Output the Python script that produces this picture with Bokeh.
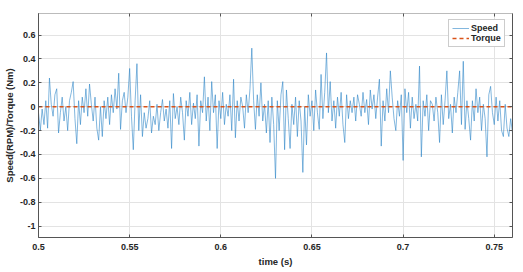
import numpy as np
from bokeh.plotting import figure
from bokeh.models import LinearAxis, FixedTicker, Range1d, Legend, LegendItem, CustomJSTickFormatter
from bokeh.embed import file_html
from bokeh.resources import INLINE

# ---- data ----
t_start = 0.5
t_step = 0.001
speed = [
    -0.05, -0.20, -0.02, -0.15, 0.05, -0.18, 0.24, 0.02, -0.08, 0.10,
    0.15, -0.22, -0.05, 0.08, -0.12, 0.00, -0.20, 0.05, 0.12, 0.21,
    -0.10, -0.31, 0.05, -0.15, 0.08, -0.05, 0.15, -0.08, 0.19, 0.02,
    -0.12, 0.08, -0.18, -0.28, 0.00, -0.25, 0.05, -0.10, 0.08, -0.15,
    0.10, -0.05, 0.15, -0.02, 0.28, -0.19, 0.05, 0.12, -0.05, 0.08,
    0.32, -0.08, -0.36, 0.05, 0.36, -0.20, 0.10, -0.25, -0.05, -0.18,
    -0.10, 0.05, -0.22, -0.08, -0.15, 0.02, -0.20, -0.05, 0.06, -0.12,
    -0.02, -0.18, 0.05, -0.35, 0.11, -0.10, 0.00, -0.15, 0.08, -0.05,
    -0.28, 0.05, -0.08, 0.12, -0.15, 0.03, -0.10, 0.10, -0.33, 0.05,
    -0.05, 0.25, -0.12, 0.08, -0.20, 0.21, -0.05, 0.10, -0.35, 0.05,
    -0.10, 0.12, -0.15, 0.02, -0.08, 0.10, -0.20, 0.23, -0.26, 0.05,
    -0.12, 0.08, 0.00, -0.18, 0.10, -0.05, 0.15, 0.49, 0.05, -0.19,
    0.10, -0.08, 0.20, -0.12, 0.02, -0.22, 0.05, -0.30, 0.08, -0.15,
    -0.60, 0.05, -0.20, 0.10, 0.21, -0.36, 0.14, -0.10, -0.35, 0.02,
    -0.15, 0.08, -0.25, 0.05, -0.12, -0.55, 0.00, -0.32, 0.10, -0.08,
    0.05, -0.20, 0.14, -0.05, -0.19, 0.27, -0.10, 0.12, 0.45, -0.05,
    0.21, -0.12, 0.05, -0.18, 0.08, -0.08, 0.12, -0.15, -0.30, 0.10,
    -0.10, 0.05, -0.05, 0.08, -0.12, 0.10, 0.02, -0.08, 0.12, -0.05,
    0.06, -0.15, 0.14, -0.02, 0.10, -0.10, 0.08, 0.23, -0.33, 0.05,
    -0.12, 0.15, -0.05, 0.30, 0.08, -0.10, -0.20, 0.05, -0.08, 0.10,
    -0.45, 0.15, -0.05, 0.12, -0.18, 0.08, -0.10, 0.02, -0.12, 0.34,
    -0.42, 0.05, -0.08, 0.10, -0.20, 0.05, 0.02, -0.12, 0.08, -0.05,
    -0.30, 0.10, -0.15, 0.05, 0.30, -0.10, 0.02, -0.22, 0.08, -0.05,
    0.12, 0.30, -0.15, 0.38, -0.19, 0.05, -0.10, -0.28, 0.05, -0.12,
    0.15, -0.05, 0.08, -0.20, 0.02, -0.10, -0.42, 0.10, 0.17, -0.05,
    -0.15, 0.08, -0.12, 0.05, -0.20, -0.25, 0.02, -0.18, -0.25, -0.10,
    -0.22,
]
torque = [0.0] * len(speed)
time = [round(t_start + i * t_step, 4) for i in range(len(speed))]

x_ticks = [0.5, 0.55, 0.6, 0.65, 0.7, 0.75]
x_tick_labels = ["0.5", "0.55", "0.6", "0.65", "0.7", "0.75"]
y_ticks = [-1, -0.8, -0.6, -0.4, -0.2, 0, 0.2, 0.4, 0.6]
y_tick_labels = ["-1", "-0.8", "-0.6", "-0.4", "-0.2", "0", "0.2", "0.4", "0.6"]

FONT = "Liberation Sans"
TXT = "#262626"
AX = "#555555"

p = figure(width=523, height=272, output_backend="svg", toolbar_location=None,
           x_range=Range1d(0.5, 0.76), y_range=Range1d(-1.095, 0.78),
           min_border_left=35, min_border_right=11, min_border_top=13, min_border_bottom=35)
p.background_fill_color = "white"
p.outline_line_color = "#bbbbbb"

r1 = p.line(time, speed, line_color="#2E86C8", line_width=0.7, line_alpha=0.85)
r2 = p.line(time, torque, line_color="#D95319", line_width=1.6, line_dash="4 3")

for ax, ticks, labels in ((p.xaxis[0], x_ticks, x_tick_labels), (p.yaxis[0], y_ticks, y_tick_labels)):
    ax.ticker = FixedTicker(ticks=ticks)
    ax.major_label_overrides = {t: l for t, l in zip(ticks, labels)}
    ax.major_label_text_font = FONT
    ax.major_label_text_font_style = "bold"
    ax.major_label_text_font_size = "9px"
    ax.major_label_text_color = TXT
    ax.axis_label_text_font = FONT
    ax.axis_label_text_font_style = "bold"
    ax.axis_label_text_font_size = "9.5px"
    ax.axis_label_text_color = TXT
    ax.axis_line_color = AX
    ax.major_tick_line_color = AX
    ax.major_tick_in = 3
    ax.major_tick_out = 0
    ax.minor_tick_line_color = None
    ax.major_label_standoff = 3
    ax.axis_label_standoff = 2

p.xaxis[0].axis_label = "time (s)"
p.yaxis[0].axis_label = "Speed(RPM)/Torque (Nm)"
p.xaxis[0].major_label_standoff = 6
p.xaxis[0].axis_label_standoff = 3

blank = CustomJSTickFormatter(code="return ''")
# right and top tick-only axes (box style)
ra = LinearAxis(ticker=FixedTicker(ticks=y_ticks), formatter=blank,
                axis_line_color=AX, major_tick_line_color=AX, major_tick_in=3, major_tick_out=0,
                minor_tick_line_color=None, major_label_standoff=0)
ta = LinearAxis(ticker=FixedTicker(ticks=x_ticks), formatter=blank,
                axis_line_color="#bbbbbb", major_tick_line_color=AX, major_tick_in=3, major_tick_out=0,
                minor_tick_line_color=None, major_label_standoff=0)
p.add_layout(ra, "right")
p.add_layout(ta, "above")

p.xgrid.ticker = FixedTicker(ticks=x_ticks)
p.ygrid.ticker = FixedTicker(ticks=y_ticks)
p.xgrid.grid_line_color = "#e3e3e3"
p.ygrid.grid_line_color = "#e3e3e3"

legend = Legend(items=[LegendItem(label="Speed", renderers=[r1]),
                       LegendItem(label="Torque", renderers=[r2])],
                location=(410, 190))
legend.label_text_font = FONT
legend.label_text_font_style = "bold"
legend.label_text_font_size = "9px"
legend.label_text_color = TXT
legend.label_height = 10
legend.glyph_height = 10
legend.glyph_width = 17
legend.spacing = 0
legend.padding = 3
legend.margin = 0
legend.label_standoff = 2
legend.border_line_color = "#999999"
legend.background_fill_alpha = 1.0
p.add_layout(legend, "center")

open("out.html", "w").write(file_html(p, INLINE))
